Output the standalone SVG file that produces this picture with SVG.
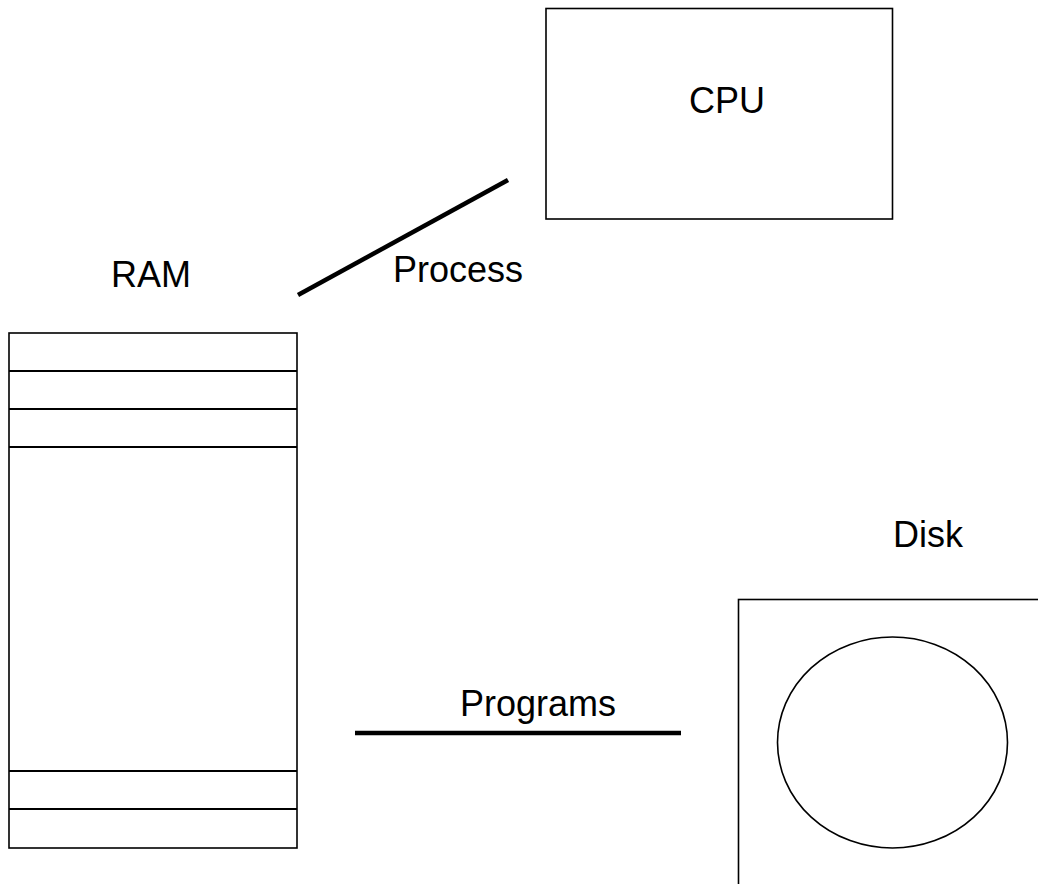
<svg xmlns="http://www.w3.org/2000/svg" width="1038" height="884" viewBox="0 0 1038 884">
<style>
.box{fill:#fff;stroke:#000;stroke-width:1.6}
.div{stroke:#000;stroke-width:1.8}
.conn{stroke:#000;stroke-width:4.5;fill:none}
text{font-family:"Liberation Sans",Arial,sans-serif;font-size:36px;fill:#000}
</style>
<rect width="1038" height="884" fill="#fff"/>
<g id="cpu">
<rect class="box" x="546" y="8.5" width="346.5" height="210.5"/>
<text x="727" y="113" text-anchor="middle">CPU</text>
</g>
<g id="ram">
<text x="151" y="287" text-anchor="middle">RAM</text>
<rect class="box" x="9" y="333" width="288" height="515"/>
<line class="div" x1="9" y1="371" x2="297" y2="371"/>
<line class="div" x1="9" y1="409" x2="297" y2="409"/>
<line class="div" x1="9" y1="447" x2="297" y2="447"/>
<line class="div" x1="9" y1="771" x2="297" y2="771"/>
<line class="div" x1="9" y1="809" x2="297" y2="809"/>
</g>
<g id="disk">
<text x="928" y="547" text-anchor="middle">Disk</text>
<rect class="box" x="738.5" y="599.5" width="320" height="300"/>
<ellipse cx="892.5" cy="742.5" rx="115" ry="105.5" fill="none" stroke="#000" stroke-width="1.6"/>
</g>
<g id="connectors">
<line class="conn" x1="298" y1="295" x2="508" y2="180"/>
<text x="458" y="282" text-anchor="middle">Process</text>
<line class="conn" x1="355" y1="733" x2="681" y2="733"/>
<text x="538" y="716" text-anchor="middle">Programs</text>
</g>
</svg>
